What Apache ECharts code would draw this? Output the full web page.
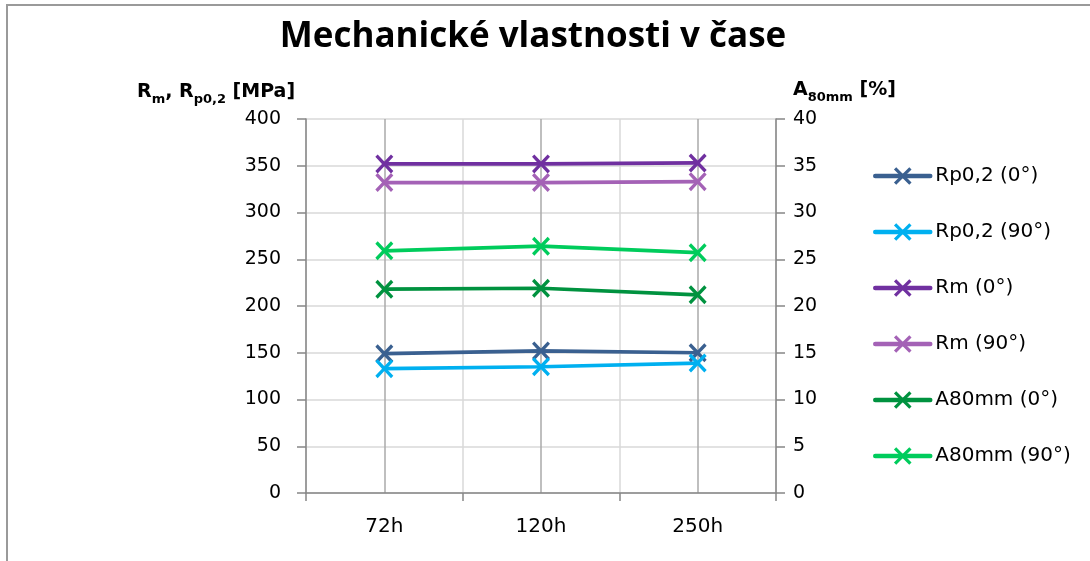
<!DOCTYPE html>
<html>
<head>
<meta charset="utf-8">
<script src="https://cdn.jsdelivr.net/npm/echarts@6/dist/echarts.min.js"></script>
<style>
html,body{margin:0;padding:0;background:#fff;}
#c{width:1090px;height:561px;}
</style>
</head>
<body>
<div id="c"></div>
<script>
var categories = ['72h', '120h', '250h'];
var seriesNames = ['Rp0,2 (0°)', 'Rp0,2 (90°)', 'Rm (0°)', 'Rm (90°)', 'A80mm (0°)', 'A80mm (90°)'];
var rp0 = [149, 152, 150];
var rp90 = [133, 135, 139];
var rm0 = [352, 352, 353];
var rm90 = [332, 332, 333];
var a0 = [21.8, 21.9, 21.2];
var a90 = [25.9, 26.4, 25.7];
var leftTicks = [0, 400, 50];
var rightTicks = [0, 40, 5];

var colors = ['#3A6090', '#00B0F0', '#7030A0', '#A462B6', '#00923F', '#00CC5C'];
var dataSets = [rp0, rp90, rm0, rm90, a0, a90];
var axisIdx = [0, 0, 0, 0, 1, 1];

var xSym = 'path://M0,1.3 L1.3,0 L5,3.7 L8.7,0 L10,1.3 L6.3,5 L10,8.7 L8.7,10 L5,6.3 L1.3,10 L0,8.7 L3.7,5 Z';
var FONT = 'DejaVu Sans';

var series = dataSets.map(function (d, i) {
  return {
    name: seriesNames[i],
    type: 'line',
    xAxisIndex: 0,
    yAxisIndex: axisIdx[i],
    data: d,
    symbol: xSym,
    symbolSize: [18, 19],
    showAllSymbol: true,
    lineStyle: { color: colors[i], width: 3.7 },
    itemStyle: { color: colors[i] },
    emphasis: { disabled: true },
    animation: false,
    z: 3
  };
});

var chart = echarts.init(document.getElementById('c'), null, { renderer: 'canvas' });
chart.setOption({
  animation: false,
  backgroundColor: '#fff',
  grid: { left: 306, right: 314, top: 119, bottom: 68 },
  xAxis: [{
    type: 'category',
    data: categories,
    boundaryGap: true,
    axisLine: { lineStyle: { color: '#868686', width: 1.5 } },
    axisTick: { show: true, length: 8, lineStyle: { color: '#868686', width: 1.5 } },
    axisLabel: { color: '#000', fontFamily: FONT, fontSize: 20, margin: 24 },
    splitLine: { show: false }
  }, {
    type: 'value',
    min: 0, max: 6, interval: 1,
    show: true,
    position: 'top',
    axisLine: { show: false }, axisTick: { show: false }, axisLabel: { show: false },
    splitLine: { show: true, lineStyle: { color: ['#D9D9D9', '#AAAAAA'], width: 1.5 } }
  }],
  yAxis: [{
    type: 'value',
    min: leftTicks[0], max: leftTicks[1], interval: leftTicks[2],
    position: 'left',
    axisLine: { show: true, lineStyle: { color: '#868686', width: 1.5 } },
    axisTick: { show: true, length: 9, lineStyle: { color: '#868686', width: 1.5 } },
    axisLabel: { color: '#000', fontFamily: FONT, fontSize: 19, margin: 25 },
    splitLine: { show: true, lineStyle: { color: '#D9D9D9', width: 1.5 } }
  }, {
    type: 'value',
    min: rightTicks[0], max: rightTicks[1], interval: rightTicks[2],
    position: 'right',
    axisLine: { show: true, lineStyle: { color: '#868686', width: 1.5 } },
    axisTick: { show: true, length: 9, lineStyle: { color: '#868686', width: 1.5 } },
    axisLabel: { color: '#000', fontFamily: FONT, fontSize: 19, margin: 17 },
    splitLine: { show: false }
  }],
  legend: {
    orient: 'vertical',
    left: 873,
    top: 166,
    padding: 0,
    itemWidth: 55,
    itemHeight: 22,
    itemGap: 36,
    data: seriesNames,
    lineStyle: { width: 4.5, cap: 'round' },
    textStyle: { color: '#000', fontFamily: FONT, fontSize: 20 },
    selectedMode: false
  },
  graphic: [{
    type: 'rect',
    shape: { x: 7, y: 5, width: 1200, height: 700 },
    style: { fill: 'none', stroke: '#9A9A9A', lineWidth: 2 },
    silent: true, z: 100
  }, {
    type: 'text',
    x: 533, y: 37,
    style: {
      text: 'Mechanické vlastnosti v čase',
      font: 'bold 35px "Open Sans"',
      fill: '#000',
      textAlign: 'center',
      textVerticalAlign: 'middle'
    }
  }, {
    type: 'text',
    x: 137, y: 83,
    style: {
      text: '{b|R}{s|m}{b|, R}{s|p0,2}{b| [MPa]}',
      textAlign: 'left',
      textVerticalAlign: 'top',
      rich: {
        b: { fontFamily: FONT, fontWeight: 'bold', fontSize: 19, lineHeight: 18, verticalAlign: 'top', fill: '#000' },
        s: { fontFamily: FONT, fontWeight: 'bold', fontSize: 13, lineHeight: 23, verticalAlign: 'bottom', fill: '#000' }
      }
    }
  }, {
    type: 'text',
    x: 793, y: 81,
    style: {
      text: '{b|A}{s|80mm}{b| [%]}',
      textAlign: 'left',
      textVerticalAlign: 'top',
      rich: {
        b: { fontFamily: FONT, fontWeight: 'bold', fontSize: 19, lineHeight: 18, verticalAlign: 'top', fill: '#000' },
        s: { fontFamily: FONT, fontWeight: 'bold', fontSize: 13, lineHeight: 23, verticalAlign: 'bottom', fill: '#000' }
      }
    }
  }],
  series: series
});
</script>
</body>
</html>
